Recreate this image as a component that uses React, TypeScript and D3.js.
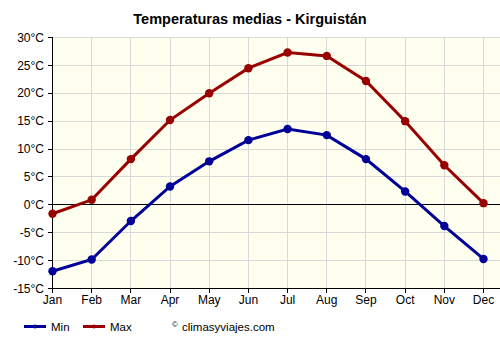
import React from "react";
import * as d3 from "d3";

const months = ["Jan", "Feb", "Mar", "Apr", "May", "Jun", "Jul", "Aug", "Sep", "Oct", "Nov", "Dec"];
const minTemps = [-11.9, -9.8, -2.9, 3.3, 7.8, 11.6, 13.6, 12.5, 8.2, 2.4, -3.8, -9.7];
const maxTemps = [-1.6, 0.9, 8.2, 15.2, 20.0, 24.5, 27.3, 26.7, 22.2, 15.0, 7.1, 0.3];
const yTicks = [30, 25, 20, 15, 10, 5, 0, -5, -10, -15];

const W = 500, H = 350;
const left = 52.5, right = 500, top = 37.5, bottom = 288.5;
const font = "'Liberation Sans', Arial, sans-serif";

export default function App() {
  const x = d3.scalePoint<string>().domain(months).range([left, 483.5]);
  const y = d3.scaleLinear().domain([-15, 30]).range([bottom, top]);
  const line = d3.line<number>().x((_, i) => x(months[i])!).y((d) => y(d));
  const series = [
    { name: "Min", data: minTemps, color: "#000099" },
    { name: "Max", data: maxTemps, color: "#990000" },
  ];
  return (
    <svg width={W} height={H} style={{ position: "absolute", left: 0, top: 0, background: "#fff" }} fontFamily={font}>
      <rect x={left} y={top} width={right - left} height={bottom - top} fill="#fffff0" />
      <g shapeRendering="crispEdges">
        {yTicks.map((t) => (
          <line key={"h" + t} x1={left} x2={right} y1={y(t)} y2={y(t)} stroke="#d8d8d8" strokeWidth={1} />
        ))}
        {months.slice(1).map((m) => (
          <line key={"v" + m} x1={x(m)} x2={x(m)} y1={top} y2={bottom} stroke="#d8d8d8" strokeWidth={1} />
        ))}
        <line x1={left} x2={right} y1={y(0)} y2={y(0)} stroke="#000" strokeWidth={1} />
        <line x1={left} x2={right} y1={bottom} y2={bottom} stroke="#000" strokeWidth={1} />
        <line x1={left} x2={left} y1={top} y2={bottom + 4} stroke="#000" strokeWidth={1} />
        {yTicks.map((t) => (
          <line key={"ytl" + t} x1={left - 5} x2={left} y1={y(t)} y2={y(t)} stroke="#000" />
        ))}
        {months.map((m) => (
          <line key={"xtl" + m} x1={x(m)} x2={x(m)} y1={bottom} y2={bottom + 4} stroke="#000" />
        ))}
      </g>
      {yTicks.map((t) => (
        <text key={"yt" + t} x={left - 8.5} y={y(t)} dy="0.35em" textAnchor="end" fontSize={12} fill="#000">
          {t}°C
        </text>
      ))}
      {months.map((m) => (
        <text key={"xt" + m} x={x(m)} y={bottom + 15} textAnchor="middle" fontSize={12} fill="#000">
          {m}
        </text>
      ))}
      {series.map((s) => (
        <g key={s.name}>
          <path d={line(s.data)!} fill="none" stroke={s.color} strokeWidth={3} />
          {s.data.map((v, i) => (
            <circle key={i} cx={x(months[i])} cy={y(v)} r={4.2} fill={s.color} />
          ))}
        </g>
      ))}
      <text x={250} y={24.3} textAnchor="middle" fontSize={14.5} fontWeight="bold" fill="#000">
        Temperaturas medias - Kirguistán
      </text>
      {series.map((s, i) => {
        const lx = 24 + i * 59;
        return (
          <g key={"lg" + s.name}>
            <line x1={lx} x2={lx + 22} y1={326.5} y2={326.5} stroke={s.color} strokeWidth={3} />
            <circle cx={lx + 11} cy={326.5} r={2} fill={s.color} />
            <text x={lx + 27} y={330.5} fontSize={11.5} fill="#000">
              {s.name}
            </text>
          </g>
        );
      })}
      <text x={172} y={327} fontSize={8} fill="#000">©</text>
      <text x={182} y={330.5} fontSize={11.5} fill="#000">climasyviajes.com</text>
    </svg>
  );
}
